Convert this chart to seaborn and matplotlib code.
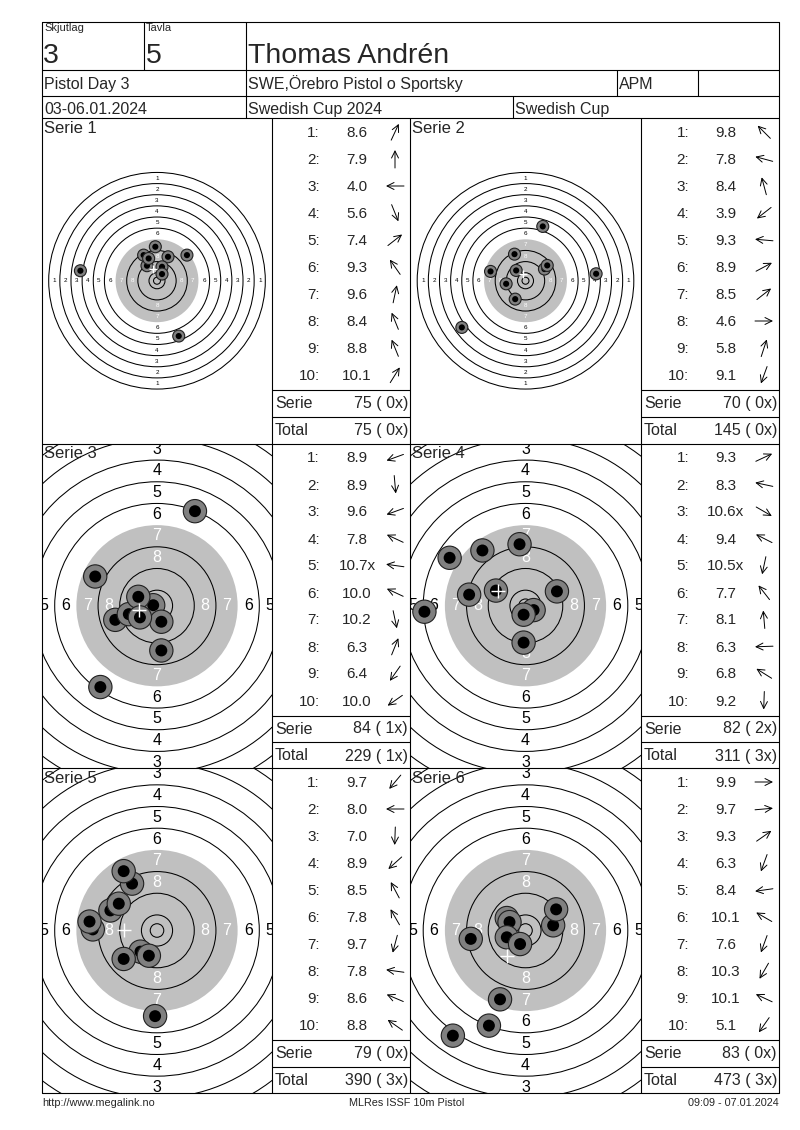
import numpy as np
import matplotlib
matplotlib.use('Agg')
import matplotlib.pyplot as plt
from matplotlib.patches import Circle
import seaborn as sns

sns.set_style('white')
plt.rcParams['font.family'] = ['Liberation Sans', 'DejaVu Sans']

W, H = 800, 1130

# header
skjutlag = '3'
tavla = '5'
skytt = 'Thomas Andrén'
tavling = 'Pistol Day 3'
klubb = 'SWE,Örebro Pistol o Sportsky'
klass = 'APM'
datum = '03-06.01.2024'
cup = 'Swedish Cup 2024'
cup_kort = 'Swedish Cup'

# shot positions in mm (x right, y up), read from the targets
s1_x = [7.9, -1.2, -55.0, 15.6, 21.5, -7.2, 3.6, -9.6, -6.0, 3.6]
s1_y = [17.2, 24.4, 7.2, -39.7, 18.4, 10.8, 10.0, 18.4, 16.0, 4.8]
s2_x = [-6.7, -25.1, -7.9, -45.7, -13.9, 13.6, 15.6, 50.7, 12.4, -7.4]
s2_y = [7.4, 6.7, 19.1, -33.5, -2.2, 8.4, 11.0, 5.0, 39.0, -13.2]
s3_x = [-15.4, 1.6, -10.4, -22.8, -1.4, -6.9, 1.6, 14.0, -20.9, -6.3]
s3_y = [-5.2, -16.5, -3.1, 10.8, 0.2, 3.3, -5.9, 34.9, -30.0, -4.3]
s4_x = [11.6, -20.8, 3.0, -10.9, -0.7, -15.9, -2.2, -37.3, -28.0, -0.7]
s4_y = [5.3, 4.1, -1.6, 5.6, -3.3, 20.4, 22.7, -2.2, 17.7, -13.6]
s5_x = [-6.1, -23.7, -0.7, -12.3, -9.2, -12.3, -3.0, -24.9, -17.2, -14.1]
s5_y = [-7.8, 0.4, -31.6, -10.5, 17.3, 21.9, -9.3, 3.3, 7.4, 9.9]
s6_x = [10.2, 11.3, -20.2, -6.9, -5.9, -6.9, -2.0, -9.4, -13.5, -26.8]
s6_y = [1.9, 7.8, -3.1, 4.6, 3.1, -2.5, -5.0, -25.4, -35.1, -38.8]

# scores per shot
p1 = ['8.6', '7.9', '4.0', '5.6', '7.4', '9.3', '9.6', '8.4', '8.8', '10.1']
p2 = ['9.8', '7.8', '8.4', '3.9', '9.3', '8.9', '8.5', '4.6', '5.8', '9.1']
p3 = ['8.9', '8.9', '9.6', '7.8', '10.7x', '10.0', '10.2', '6.3', '6.4', '10.0']
p4 = ['9.3', '8.3', '10.6x', '9.4', '10.5x', '7.7', '8.1', '6.3', '6.8', '9.2']
p5 = ['9.7', '8.0', '7.0', '8.9', '8.5', '7.8', '9.7', '7.8', '8.6', '8.8']
p6 = ['9.9', '9.7', '9.3', '6.3', '8.4', '10.1', '7.6', '10.3', '10.1', '5.1']

# direction arrows (degrees, 0 = right, counter clockwise)
a1 = [65, 90, 180, -68, 38, 125, 78, 112, 112, 58]
a2 = [135, 165, 105, 218, 175, 28, 38, 0, 72, 250]
a3 = [200, 275, 200, 155, 172, 155, 282, 68, 235, 215]
a4 = [25, 168, -30, 153, 258, 128, 95, 182, 148, 268]
a5 = [230, 180, 268, 222, 118, 120, 255, 172, 157, 145]
a6 = [0, 5, 35, 250, 188, 150, 250, 240, 155, 235]

serie_sum = ['75 ( 0x)', '70 ( 0x)', '84 ( 1x)', '82 ( 2x)', '79 ( 0x)', '83 ( 0x)']
total_sum = ['75 ( 0x)', '145 ( 0x)', '229 ( 1x)', '311 ( 3x)', '390 ( 3x)', '473 ( 3x)']

shots_x = [s1_x, s2_x, s3_x, s4_x, s5_x, s6_x]
shots_y = [s1_y, s2_y, s3_y, s4_y, s5_y, s6_y]
poang = [p1, p2, p3, p4, p5, p6]
pilar = [a1, a2, a3, a4, a5, a6]

# layout
row_edges = [(118, 443.5), (443.5, 768), (768, 1093)]
target_cols = [(42, 272), (410, 641)]
table_cols = [(272, 410), (641, 779)]
px_per_mm = [1.393, 1.393, 2.71, 2.71, 2.71, 2.71]

fig = plt.figure(figsize=(8, 11.3), dpi=100)


def rect(x0, y0, x1, y1):
    return [x0 / W, 1 - y1 / H, (x1 - x0) / W, (y1 - y0) / H]


ring_r = {k: 5.75 + (10 - k) * 8 for k in range(1, 11)}

for i in range(6):
    y0, y1 = row_edges[i // 2]
    x0, x1 = target_cols[i % 2]
    s = px_per_mm[i]
    zoomed = s > 2
    ax = fig.add_axes(rect(x0, y0, x1, y1))
    hw, hh = (x1 - x0) / 2 / s, (y1 - y0) / 2 / s
    ax.set_xlim(-hw, hw)
    ax.set_ylim(-hh, hh)
    ax.axis('off')

    ax.add_patch(Circle((0, 0), ring_r[7], fc='#c0c0c0', ec='none', zorder=1))
    for k in [1, 2, 3, 4, 5, 6, 8, 9, 10]:
        ax.add_patch(Circle((0, 0), ring_r[k], fill=False, ec='black', lw=0.75, zorder=2))
    ax.add_patch(Circle((0, 0), 2.5, fill=False, ec='black', lw=0.75, zorder=2))

    fs = 11.5 if zoomed else 4.5
    for k in range(1, 9):
        r = ring_r[k] - 4
        col = 'white' if k >= 7 else 'black'
        for (dx, dy) in [(0, 1), (0, -1), (1, 0), (-1, 0)]:
            ax.text(dx * r, dy * r, str(k), ha='center', va='center', fontsize=fs,
                    color=col, clip_on=True, zorder=3)

    for sx, sy in zip(shots_x[i], shots_y[i]):
        ax.add_patch(Circle((sx, sy), 4.3, fc='#808080', ec='#202020', lw=0.8, zorder=4))
        ax.add_patch(Circle((sx, sy), 2.2, fc='black', ec='none', zorder=4))

    sns.scatterplot(x=[np.mean(shots_x[i])], y=[np.mean(shots_y[i])], marker='+',
                    s=90 if zoomed else 30, color='white', linewidth=1.0, ax=ax, zorder=5)
    ax.set_xlim(-hw, hw)
    ax.set_ylim(-hh, hh)

# overlay with the frame and the texts
ov = fig.add_axes([0, 0, 1, 1])
ov.set_xlim(0, W)
ov.set_ylim(H, 0)
ov.axis('off')
ov.patch.set_alpha(0)
ov.set_zorder(10)

lw = 0.8
k = dict(color='black', lw=lw)
ov.plot([42, 779, 779, 42, 42], [22, 22, 1093, 1093, 22], **k)
for yy in [70, 96, 118, 443.5, 768]:
    ov.plot([42, 779], [yy, yy], **k)
ov.plot([144, 144], [22, 70], **k)
ov.plot([246, 246], [22, 118], **k)
ov.plot([617, 617], [70, 96], **k)
ov.plot([698, 698], [70, 96], **k)
ov.plot([513, 513], [96, 118], **k)
for xx in [272, 410, 641]:
    ov.plot([xx, xx], [118, 1093], **k)

ov.text(44, 31, 'Skjutlag', fontsize=8, va='baseline')
ov.text(146, 31, 'Tavla', fontsize=8, va='baseline')
ov.text(43, 63, skjutlag, fontsize=20.5, va='baseline')
ov.text(146, 63, tavla, fontsize=20.5, va='baseline')
ov.text(248, 63, skytt, fontsize=20.5, va='baseline')
ov.text(44, 89, tavling, fontsize=11.5, va='baseline')
ov.text(248, 89, klubb, fontsize=11.5, va='baseline')
ov.text(619, 89, klass, fontsize=11.5, va='baseline')
ov.text(44, 114, datum, fontsize=11.5, va='baseline')
ov.text(248, 114, cup, fontsize=11.5, va='baseline')
ov.text(515, 114, cup_kort, fontsize=11.5, va='baseline')

for i in range(6):
    y0, y1 = row_edges[i // 2]
    tx0, tx1 = table_cols[i % 2]
    gx0 = target_cols[i % 2][0]
    ov.text(gx0 + 2, y0 + 15, f'Serie {i + 1}', fontsize=12, va='baseline')
    L = 18
    for n in range(10):
        yc = y0 + 14 + 27 * n
        ov.text(tx0 + 48, yc + 5, f'{n + 1}:', fontsize=11, ha='right', va='baseline')
        ov.text(tx0 + 85, yc + 5, poang[i][n], fontsize=11, ha='center', va='baseline')
        th = np.deg2rad(pilar[i][n])
        dx, dy = np.cos(th) * L / 2, -np.sin(th) * L / 2
        ax_c = tx0 + 123
        ov.annotate('', xy=(ax_c + dx, yc + dy), xytext=(ax_c - dx, yc - dy),
                    arrowprops=dict(arrowstyle='->,head_length=0.5,head_width=0.25',
                                    lw=0.7, color='black', shrinkA=0, shrinkB=0))
    ov.plot([tx0, tx1], [y0 + 272, y0 + 272], **k)
    ov.plot([tx0, tx1], [y0 + 298.5, y0 + 298.5], **k)
    ov.text(tx0 + 3, y0 + 290, 'Serie', fontsize=11.5, va='baseline')
    ov.text(tx1 - 2, y0 + 290, serie_sum[i], fontsize=11.5, ha='right', va='baseline')
    ov.text(tx0 + 3, y0 + 317, 'Total', fontsize=11.5, va='baseline')
    ov.text(tx1 - 2, y0 + 317, total_sum[i], fontsize=11.5, ha='right', va='baseline')

ov.text(42, 1106, 'http://www.megalink.no', fontsize=7.8, va='baseline')
ov.text(407, 1106, 'MLRes ISSF 10m Pistol', fontsize=7.8, ha='center', va='baseline')
ov.text(779, 1106, '09:09 - 07.01.2024', fontsize=7.8, ha='right', va='baseline')

fig.savefig('out.png', dpi=100, facecolor='white')
